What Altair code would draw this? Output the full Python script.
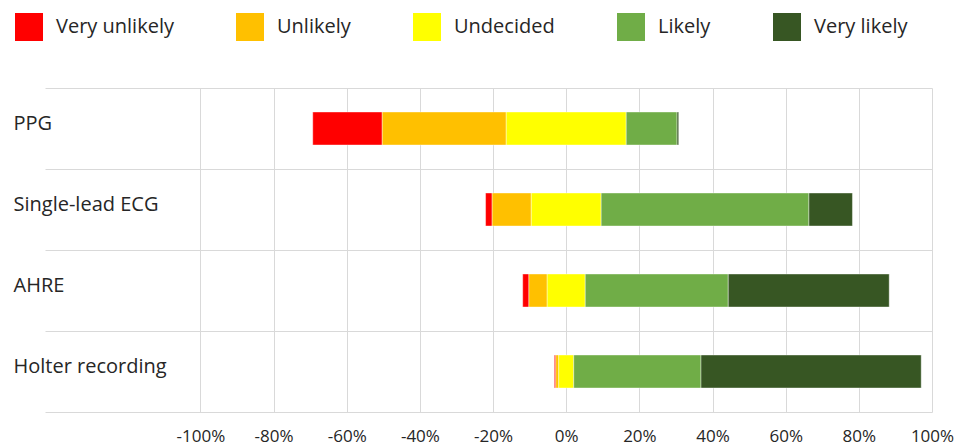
import altair as alt
import pandas as pd

categories = ["PPG", "Single-lead ECG", "AHRE", "Holter recording"]
responses = ["Very unlikely", "Unlikely", "Undecided", "Likely", "Very likely"]
colors = ["#FF0000", "#FFC000", "#FFFF00", "#70AD47", "#375623"]

very_unlikely = [19.0, 1.8, 1.7, 0.4]
unlikely = [33.9, 10.7, 5.0, 0.8]
undecided = [32.8, 19.1, 10.4, 4.1]
likely = [13.9, 56.8, 39.1, 34.8]
very_likely = [0.45, 11.9, 44.0, 60.2]

tick_values = [-100, -80, -60, -40, -20, 0, 20, 40, 60, 80, 100]

rows = []
for i, cat in enumerate(categories):
    vals = [very_unlikely[i], unlikely[i], undecided[i], likely[i], very_likely[i]]
    start = -(vals[0] + vals[1] + vals[2] / 2.0)
    for j, (r, v) in enumerate(zip(responses, vals)):
        rows.append({"category": cat, "response": r, "start": start, "end": start + v, "order": j})
        start += v
df = pd.DataFrame(rows)

FONT = "Open Sans"
TXT = "#262626"
GRID = "#d9d9d9"

chart = alt.Chart(df).mark_bar(size=33, stroke="white", strokeWidth=0.4).encode(
    x=alt.X(
        "start:Q",
        scale=alt.Scale(domain=[-142.5, 100], nice=False, zero=False),
        axis=alt.Axis(
            values=tick_values,
            labelExpr="datum.value + '%'",
            grid=True,
            gridColor=GRID,
            gridWidth=1,
            domain=False,
            ticks=False,
            labelPadding=16,
            labelFontSize=17,
            labelFont=FONT,
            labelColor=TXT,
            labelFlush=False,
            title=None,
        ),
    ),
    x2="end:Q",
    y=alt.Y(
        "category:N",
        sort=categories,
        scale=alt.Scale(paddingInner=0, paddingOuter=0),
        axis=alt.Axis(
            title=None,
            domain=False,
            ticks=False,
            tickSize=0,
            tickBand="extent",
            grid=True,
            gridColor=GRID,
            gridWidth=1,
            labelAlign="left",
            labelBaseline="middle",
            labelPadding=32,
            labelFontSize=20,
            labelFont=FONT,
            labelColor=TXT,
            labelOffset=-5,
            labelLimit=300,
        ),
    ),
    color=alt.Color(
        "response:N",
        sort=responses,
        scale=alt.Scale(domain=responses, range=colors),
        legend=alt.Legend(
            title=None,
            orient="none",
            legendX=-30,
            legendY=-75,
            direction="horizontal",
            columns=5,
            symbolType="square",
            symbolSize=784,
            symbolStrokeWidth=0,
            symbolOpacity=1,
            labelFontSize=20,
            labelFont=FONT,
            labelColor=TXT,
            labelOffset=13,
            columnPadding=62,
            padding=0,
            labelLimit=300,
        ),
    ),
    order=alt.Order("order:Q"),
).properties(
    width=887,
    height=324,
).configure_view(strokeWidth=0)

chart.save("out.html", embed_options={"renderer": "svg", "actions": False})
